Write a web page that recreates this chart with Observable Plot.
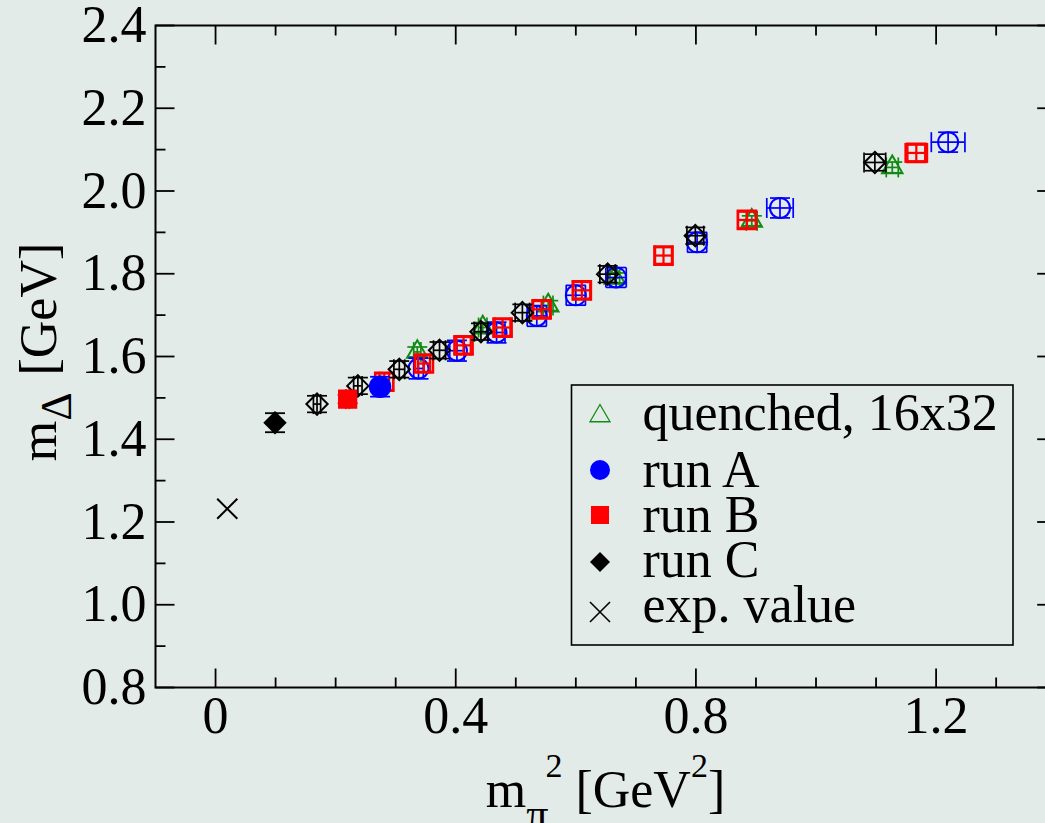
<!DOCTYPE html>
<html>
<head>
<meta charset="utf-8">
<script src="https://cdn.jsdelivr.net/npm/d3@7"></script>
<script src="https://cdn.jsdelivr.net/npm/@observablehq/plot@0.6"></script>
<style>
  html, body { margin: 0; padding: 0; background: #e3ebe8; overflow: hidden; }
  #chart { position: relative; width: 1045px; height: 823px; overflow: hidden; }
</style>
</head>
<body>
<div id="chart"></div>
<script>
// ---- axis ticks ----
const xMajor = [0, 0.4, 0.8, 1.2];
const xTickLabels = ["0", "0.4", "0.8", "1.2"];
const xMinor = [0.1, 0.2, 0.3, 0.5, 0.6, 0.7, 0.9, 1.0, 1.1, 1.3];
const yMajor = [0.8, 1.0, 1.2, 1.4, 1.6, 1.8, 2.0, 2.2, 2.4];
const yTickLabels = ["0.8", "1.0", "1.2", "1.4", "1.6", "1.8", "2.0", "2.2", "2.4"];
const yMinor = [0.9, 1.1, 1.3, 1.5, 1.7, 1.9, 2.1, 2.3];

// ---- series: quenched, 16x32 ----
const quenchedX    = [0.336, 0.445, 0.554, 0.665, 0.893, 1.127];
const quenchedY    = [1.611, 1.670, 1.723, 1.790, 1.928, 2.057];
const quenchedXErr = [0.006, 0.007, 0.008, 0.008, 0.009, 0.010];
const quenchedYErr = [0.012, 0.012, 0.012, 0.012, 0.012, 0.013];

// ---- series: run A ----
const runAX      = [0.274, 0.338, 0.402, 0.468, 0.535, 0.600, 0.667, 0.802, 0.940, 1.220];
const runAY      = [1.527, 1.571, 1.614, 1.658, 1.698, 1.748, 1.791, 1.876, 1.959, 2.118];
const runAXErr   = [0.004, 0.008, 0.012, 0.014, 0.016, 0.016, 0.017, 0.016, 0.022, 0.028];
const runAYErr   = [0.024, 0.025, 0.025, 0.025, 0.025, 0.024, 0.024, 0.024, 0.024, 0.024];
const runAFilled = [true, false, false, false, false, false, false, false, false, false];

// ---- series: run B ----
const runBX      = [0.220, 0.281, 0.347, 0.413, 0.478, 0.543, 0.610, 0.746, 0.885, 1.167];
const runBY      = [1.497, 1.539, 1.583, 1.627, 1.670, 1.714, 1.760, 1.844, 1.930, 2.092];
const runBXErr   = [0.003, 0.008, 0.010, 0.012, 0.013, 0.014, 0.014, 0.014, 0.015, 0.018];
const runBYErr   = [0.010, 0.020, 0.020, 0.020, 0.020, 0.020, 0.020, 0.020, 0.020, 0.020];
const runBFilled = [true, false, false, false, false, false, false, false, false, false];

// ---- series: run C ----
const runCX      = [0.099, 0.169, 0.237, 0.306, 0.373, 0.442, 0.511, 0.653, 0.799, 1.098];
const runCY      = [1.440, 1.485, 1.529, 1.569, 1.615, 1.660, 1.706, 1.799, 1.892, 2.069];
const runCXErr   = [0.003, 0.006, 0.007, 0.009, 0.010, 0.011, 0.012, 0.013, 0.014, 0.018];
const runCYErr   = [0.023, 0.020, 0.020, 0.020, 0.020, 0.020, 0.020, 0.020, 0.020, 0.020];
const runCFilled = [true, false, false, false, false, false, false, false, false, false];

// ---- experimental value ----
const expX = [0.0195];
const expY = [1.232];

// ---- legend ----
const legendLabels = ["quenched, 16x32", "run A", "run B", "run C", "exp. value"];

const GREEN = "#138a13", BLUE = "#0000ff", RED = "#ff0000", BLACK = "#000000";
const BG = "#e3ebe8";
const FONT = "'Liberation Serif', 'Times New Roman', serif";

function rows(xs, ys, xe, ye, filled) {
  return xs.map((x, i) => ({x, y: ys[i], xe: xe ? xe[i] : 0, ye: ye ? ye[i] : 0, filled: filled ? filled[i] : false}));
}
const lineSym = (dx, dy) => ({draw(ctx) { ctx.moveTo(0, 0); ctx.lineTo(dx, dy); }});
const segSym = (hx, hy) => ({draw(ctx) { ctx.moveTo(-hx, -hy); ctx.lineTo(hx, hy); }});
const hCap = segSym(10, 0);
const vCap = segSym(0, 10);

function errMarks(data, color, w) {
  return [
    Plot.ruleX(data, {x: "x", y1: d => d.y - d.ye, y2: d => d.y + d.ye, stroke: color, strokeWidth: w}),
    Plot.ruleY(data, {y: "y", x1: d => d.x - d.xe, x2: d => d.x + d.xe, stroke: color, strokeWidth: w}),
    Plot.dot(data, {x: "x", y: d => d.y - d.ye, symbol: hCap, r: 1, stroke: color, fill: "none", strokeWidth: w}),
    Plot.dot(data, {x: "x", y: d => d.y + d.ye, symbol: hCap, r: 1, stroke: color, fill: "none", strokeWidth: w}),
    Plot.dot(data, {x: d => d.x - d.xe, y: "y", symbol: vCap, r: 1, stroke: color, fill: "none", strokeWidth: w}),
    Plot.dot(data, {x: d => d.x + d.xe, y: "y", symbol: vCap, r: 1, stroke: color, fill: "none", strokeWidth: w})
  ];
}
function openMarks(data, color, symbol, r, sw) {
  const open = data.filter(d => !d.filled);
  return [
    ...errMarks(open, color, sw * 0.85),
    Plot.dot(open, {x: "x", y: "y", symbol, r, stroke: color, fill: "none", strokeWidth: sw})
  ];
}
function filledMarks(data, color, symbol, r) {
  const full = data.filter(d => d.filled);
  return [
    ...errMarks(full, color, 1.8),
    Plot.dot(full, {x: "x", y: "y", symbol, r, stroke: color, fill: color, strokeWidth: 1.5})
  ];
}

const quenched = rows(quenchedX, quenchedY, quenchedXErr, quenchedYErr);
const runA = rows(runAX, runAY, runAXErr, runAYErr, runAFilled);
const runB = rows(runBX, runBY, runBXErr, runBYErr, runBFilled);
const runC = rows(runCX, runCY, runCXErr, runCYErr, runCFilled);
const expt = rows(expX, expY);

const svg = Plot.plot({
  width: 1045,
  height: 823,
  marginLeft: 155,
  marginRight: -10.7,
  marginTop: 25,
  marginBottom: 136,
  style: {background: BG, fontFamily: FONT, fontSize: "52px", color: "black"},
  x: {domain: [-0.1, 1.4]},
  y: {domain: [0.8, 2.4]},
  marks: [
    Plot.frame({stroke: "black", strokeWidth: 2}),
    // major/minor ticks on all four sides, pointing inward
    Plot.dot(xMajor, {x: d => d, y: () => 0.8, symbol: lineSym(0, -19), r: 1, stroke: "black", strokeWidth: 1.8}),
    Plot.dot(xMinor, {x: d => d, y: () => 0.8, symbol: lineSym(0, -10), r: 1, stroke: "black", strokeWidth: 1.8}),
    Plot.dot(xMajor, {x: d => d, y: () => 2.4, symbol: lineSym(0, 19), r: 1, stroke: "black", strokeWidth: 1.8}),
    Plot.dot(xMinor, {x: d => d, y: () => 2.4, symbol: lineSym(0, 10), r: 1, stroke: "black", strokeWidth: 1.8}),
    Plot.dot(yMajor, {y: d => d, x: () => -0.1, symbol: lineSym(19, 0), r: 1, stroke: "black", strokeWidth: 1.8}),
    Plot.dot(yMinor, {y: d => d, x: () => -0.1, symbol: lineSym(10, 0), r: 1, stroke: "black", strokeWidth: 1.8}),
    Plot.dot(yMajor, {y: d => d, x: () => 1.4, symbol: lineSym(-19, 0), r: 1, stroke: "black", strokeWidth: 1.8}),
    Plot.dot(yMinor, {y: d => d, x: () => 1.4, symbol: lineSym(-10, 0), r: 1, stroke: "black", strokeWidth: 1.8}),
    Plot.axisX({ticks: xMajor, tickFormat: d => xTickLabels[xMajor.indexOf(d)], tickSize: 0, tickPadding: 9, label: null, fontSize: 52}),
    Plot.axisY({ticks: yMajor, tickFormat: d => yTickLabels[yMajor.indexOf(d)], tickSize: 0, tickPadding: 9, label: null, fontSize: 52}),
    ...openMarks(quenched, GREEN, "triangle", 7.6, 2),
    ...openMarks(runA, BLUE, "circle", 10, 2),
    ...openMarks(runB, RED, "square", 10.2, 2.6),
    ...openMarks(runC, BLACK, "diamond2", 9.6, 2),
    ...filledMarks(runC, BLACK, "diamond2", 9.6),
    ...filledMarks(runB, RED, "square", 10),
    ...filledMarks(runA, BLUE, "circle", 10.5),
    Plot.dot(expt, {x: "x", y: "y", symbol: "times", r: 9.2, stroke: BLACK, strokeWidth: 2})
  ]
});

const root = d3.select(svg);

// axis titles
const xt = root.append("text")
  .attr("x", 605.5).attr("y", 807)
  .attr("text-anchor", "middle")
  .attr("font-family", FONT).attr("font-size", 52).attr("fill", "black");
xt.append("tspan").text("m");
xt.append("tspan").attr("font-size", 44).attr("dy", 22).text("π");
xt.append("tspan").attr("font-size", 34).attr("dy", -52).attr("dx", -3).text("2");
xt.append("tspan").attr("font-size", 52).attr("dy", 30).text(" [GeV");
xt.append("tspan").attr("font-size", 34).attr("dy", -30).text("2");
xt.append("tspan").attr("font-size", 52).attr("dy", 30).text("]");

const yt = root.append("text")
  .attr("transform", "translate(56,352) rotate(-90)")
  .attr("text-anchor", "middle")
  .attr("font-family", FONT).attr("font-size", 52).attr("fill", "black");
yt.append("tspan").text("m");
yt.append("tspan").attr("font-size", 44).attr("dy", 15).text("Δ");
yt.append("tspan").attr("font-size", 52).attr("dy", -15).attr("dx", 4).text(" [GeV]");

// legend box
const lg = root.append("g").attr("text-anchor", "start");
lg.append("rect").attr("x", 571.5).attr("y", 385).attr("width", 441.5).attr("height", 260)
  .attr("fill", "none").attr("stroke", "black").attr("stroke-width", 1.6);
const symY = [416, 470, 515, 562, 612];
const txtY = [430, 487, 532, 577, 622];
const legendSyms = [
  {type: d3.symbolTriangle, size: 173, fill: "none", stroke: GREEN, sw: 1.3},
  {type: d3.symbolCircle, size: 314, fill: BLUE, stroke: BLUE, sw: 0},
  {type: d3.symbolSquare, size: 324, fill: RED, stroke: RED, sw: 0},
  {type: d3.symbolDiamond2, size: 255, fill: BLACK, stroke: BLACK, sw: 0},
  {type: d3.symbolTimes, size: 263, fill: "none", stroke: BLACK, sw: 1.6}
];
legendLabels.forEach((label, i) => {
  const s = legendSyms[i];
  lg.append("path")
    .attr("d", d3.symbol().type(s.type).size(s.size)())
    .attr("transform", `translate(600,${symY[i]})`)
    .attr("fill", s.fill).attr("stroke", s.stroke).attr("stroke-width", s.sw);
  lg.append("text").attr("x", 642.5).attr("y", txtY[i])
    .attr("text-anchor", "start")
    .attr("font-family", FONT).attr("font-size", 52).attr("fill", "black")
    .text(label);
});

document.getElementById("chart").appendChild(svg);
</script>
</body>
</html>
